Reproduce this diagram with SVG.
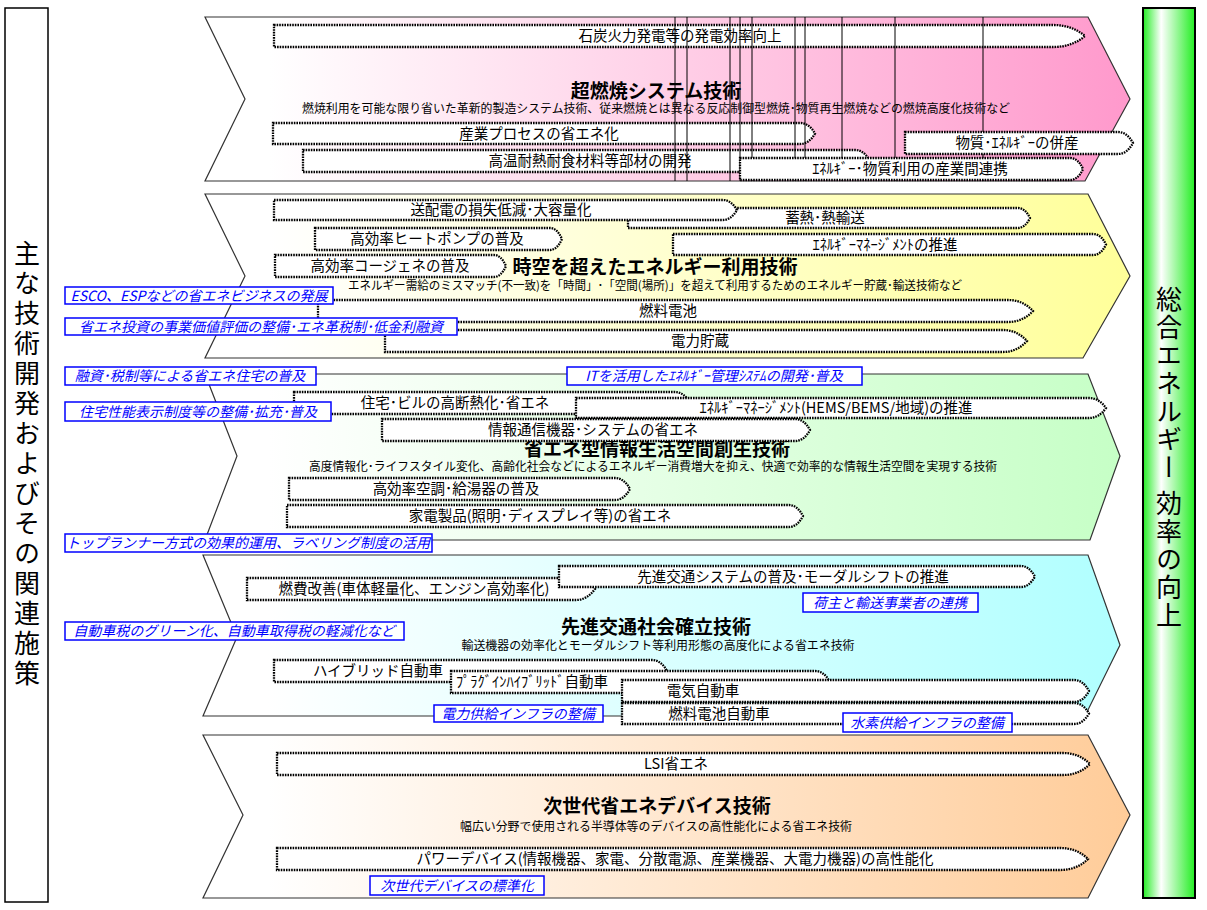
<svg xmlns="http://www.w3.org/2000/svg" width="1207" height="910" viewBox="0 0 1207 910">
<defs>
<linearGradient id="gPink" x1="0" y1="0" x2="1" y2="0"><stop offset="0" stop-color="#fff"/><stop offset="0.07" stop-color="#fff"/><stop offset="1" stop-color="#ff99cc"/></linearGradient>
<linearGradient id="gYel" x1="0" y1="0" x2="1" y2="0"><stop offset="0" stop-color="#fff"/><stop offset="0.07" stop-color="#fff"/><stop offset="1" stop-color="#ffff99"/></linearGradient>
<linearGradient id="gGrn" x1="0" y1="0" x2="1" y2="0"><stop offset="0" stop-color="#fff"/><stop offset="0.07" stop-color="#fff"/><stop offset="1" stop-color="#c6ffc6"/></linearGradient>
<linearGradient id="gCyn" x1="0" y1="0" x2="1" y2="0"><stop offset="0" stop-color="#fff"/><stop offset="0.07" stop-color="#fff"/><stop offset="1" stop-color="#b0ffff"/></linearGradient>
<linearGradient id="gOrg" x1="0" y1="0" x2="1" y2="0"><stop offset="0" stop-color="#fff"/><stop offset="0.07" stop-color="#fff"/><stop offset="1" stop-color="#ffcc99"/></linearGradient>
<linearGradient id="gCol" x1="0" y1="0" x2="1" y2="0"><stop offset="0" stop-color="#22ee22"/><stop offset="0.35" stop-color="#ffffff"/><stop offset="1" stop-color="#22ee22"/></linearGradient>
<style>
.bn{stroke:#333;stroke-width:1.2}
.arr{fill:#fff;stroke:#000;stroke-width:2.3;stroke-dasharray:1.6 1}
text{font-family:"Noto Sans CJK JP","Noto Sans",sans-serif;fill:#000;text-anchor:middle}
.lbl{font-size:14.5px}
.ttl{font-size:19px;font-weight:bold}
.sub{font-size:12px}
.pol rect{fill:#fff;stroke:#0000ff;stroke-width:1.5}
.pol text{fill:#0000ff;font-style:italic;font-size:14px}
.vl{stroke:#000;stroke-width:1}
.big{font-size:26px}
</style>
</defs>
<rect width="1207" height="910" fill="#fff"/>

<g id="left-column"><rect x="5" y="8" width="43" height="894" fill="#fff" stroke="#000" stroke-width="1.5"/>
<text class="big" x="27" y="465" writing-mode="vertical-rl" letter-spacing="4">主な技術開発およびその関連施策</text></g>

<g id="right-column"><rect x="1143" y="8" width="52" height="890" fill="url(#gCol)" stroke="#000" stroke-width="2"/>
<text class="big" x="1169" y="458" writing-mode="vertical-rl" letter-spacing="2">総合エネルギー 効率の向上</text></g>

<!-- Banner 1 pink -->
<g id="banner-combustion">
<polygon class="bn" fill="url(#gPink)" points="205,17 1088,17 1130,99 1085,181 205,181 245,99"/>
<text class="ttl" x="656" y="97.5">超燃焼システム技術</text>
<text class="sub" x="656" y="113" textLength="708" lengthAdjust="spacingAndGlyphs">燃焼利用を可能な限り省いた革新的製造システム技術、従来燃焼とは異なる反応制御型燃焼･物質再生燃焼などの燃焼高度化技術など</text>
</g>
<g id="a-coal"><path class="arr" d="M274,25 H1053 Q1072,25 1085,36 Q1072,47 1053,47 H274 Z"/><text class="lbl" x="680" y="41">石炭火力発電等の発電効率向上</text></g>
<g id="a-process"><path class="arr" d="M273,123 H800 Q809,123 815,133.5 Q809,144 800,144 H273 Z"/><text class="lbl" x="539" y="139">産業プロセスの省エネ化</text></g>
<g id="a-material"><path class="arr" d="M303,150 H855 Q864,150 870,161 Q864,172 855,172 H303 Z"/><text class="lbl" x="590" y="166">高温耐熱耐食材料等部材の開発</text></g>
<g id="pink-lines">
<line class="vl" x1="675" y1="17" x2="675" y2="181"/><line class="vl" x1="687" y1="17" x2="687" y2="181"/>
<line class="vl" x1="730" y1="17" x2="730" y2="181"/><line class="vl" x1="740" y1="17" x2="740" y2="181"/>
<line class="vl" x1="752" y1="17" x2="752" y2="181"/><line class="vl" x1="795" y1="17" x2="795" y2="181"/>
<line class="vl" x1="805" y1="17" x2="805" y2="181"/><line class="vl" x1="842" y1="17" x2="842" y2="181"/>
<line class="vl" x1="895" y1="17" x2="895" y2="181"/><line class="vl" x1="983" y1="17" x2="983" y2="181"/>
</g>
<g id="a-coproduction"><path class="arr" d="M905,132 H1118 Q1127,132 1133,143 Q1127,154 1118,154 H905 Z"/><text class="lbl" x="1017" y="148">物質･ｴﾈﾙｷﾞｰの併産</text></g>
<g id="a-interindustry"><path class="arr" d="M740,158 H1070 Q1078,158 1083,169 Q1078,180 1070,180 H740 Z"/><text class="lbl" x="910" y="174">ｴﾈﾙｷﾞｰ･物質利用の産業間連携</text></g>

<!-- Banner 2 yellow -->
<g id="banner-spacetime">
<polygon class="bn" fill="url(#gYel)" points="205,194 1088,194 1130,276 1083,358 205,358 245,276"/>
<text class="ttl" x="655" y="274">時空を超えたエネルギー利用技術</text>
<text class="sub" x="655" y="290" textLength="614" lengthAdjust="spacingAndGlyphs">エネルギー需給のミスマッチ(不一致)を「時間」･「空間(場所)」を超えて利用するためのエネルギー貯蔵･輸送技術など</text>
</g>
<g id="a-heatstore"><path class="arr" d="M628,208 H1018 Q1025,208 1030,218 Q1025,228 1018,228 H628 Z"/><text class="lbl" x="825" y="223">蓄熱･熱輸送</text></g>
<g id="a-transmission"><path class="arr" d="M274,200 H723 Q731,200 737,210 Q731,220 723,220 H274 Z"/><text class="lbl" x="501" y="215">送配電の損失低減･大容量化</text></g>
<g id="a-heatpump"><path class="arr" d="M315,228 H550 Q557,228 562,239 Q557,250 550,250 H315 Z"/><text class="lbl" x="437" y="244">高効率ヒートポンプの普及</text></g>
<g id="a-energymgmt"><path class="arr" d="M673,234 H1093 Q1101,234 1106,244.5 Q1101,255 1093,255 H673 Z"/><text class="lbl" x="885" y="250">ｴﾈﾙｷﾞｰﾏﾈｰｼﾞﾒﾝﾄの推進</text></g>
<g id="a-cogen"><path class="arr" d="M275,255 H494 Q501,255 506,266 Q501,277 494,277 H275 Z"/><text class="lbl" x="390" y="271">高効率コージェネの普及</text></g>
<g id="a-fuelcell"><path class="arr" d="M318,300 H1008 Q1023,300 1033,311 Q1023,322 1008,322 H318 Z"/><text class="lbl" x="668" y="316">燃料電池</text></g>
<g id="a-storage"><path class="arr" d="M385,330 H1003 Q1017,330 1027,341 Q1017,352 1003,352 H385 Z"/><text class="lbl" x="700" y="346">電力貯蔵</text></g>
<g id="p-esco" class="pol"><rect x="65" y="287" width="268" height="17"/><text x="199" y="300.5">ESCO、ESPなどの省エネビジネスの発展</text></g>
<g id="p-invest" class="pol"><rect x="65" y="318" width="392" height="17"/><text x="261" y="331.5">省エネ投資の事業価値評価の整備･エネ革税制･低金利融資</text></g>

<!-- Banner 3 green -->
<g id="banner-info">
<polygon class="bn" fill="url(#gGrn)" points="205,374 1088,374 1120,456 1090,540 205,540 237,456"/>
<text class="ttl" x="657" y="456">省エネ型情報生活空間創生技術</text>
<text class="sub" x="653" y="471" textLength="688" lengthAdjust="spacingAndGlyphs">高度情報化･ライフスタイル変化、高齢化社会などによるエネルギー消費増大を抑え、快適で効率的な情報生活空間を実現する技術</text>
</g>
<g id="a-insulation"><path class="arr" d="M294,392 H675 Q684,392 690,403 Q684,414 675,414 H294 Z"/><text class="lbl" x="455" y="408">住宅･ビルの高断熱化･省エネ</text></g>
<g id="a-hems"><path class="arr" d="M576,398 H1089 Q1099,398 1106,408 Q1099,418 1089,418 H576 Z"/><text class="lbl" x="836" y="413">ｴﾈﾙｷﾞｰﾏﾈｰｼﾞﾒﾝﾄ(HEMS/BEMS/地域)の推進</text></g>
<g id="a-ict"><path class="arr" d="M382,419 H795 Q804,419 810,430 Q804,441 795,441 H382 Z"/><text class="lbl" x="593" y="435">情報通信機器･システムの省エネ</text></g>
<g id="a-aircon"><path class="arr" d="M289,478 H615 Q624,478 630,489 Q624,500 615,500 H289 Z"/><text class="lbl" x="456" y="494">高効率空調･給湯器の普及</text></g>
<g id="a-appliance"><path class="arr" d="M287,505 H789 Q797,505 803,516 Q797,527 789,527 H287 Z"/><text class="lbl" x="540" y="521">家電製品(照明･ディスプレイ等)の省エネ</text></g>
<g id="p-housing-loan" class="pol"><rect x="65" y="367" width="251" height="18"/><text x="190" y="381">融資･税制等による省エネ住宅の普及</text></g>
<g id="p-it" class="pol"><rect x="567" y="367" width="295" height="18"/><text x="714" y="381">ITを活用したｴﾈﾙｷﾞｰ管理ｼｽﾃﾑの開発･普及</text></g>
<g id="p-housing-label" class="pol"><rect x="65" y="402" width="266" height="19"/><text x="198" y="416.5">住宅性能表示制度等の整備･拡充･普及</text></g>

<!-- Banner 4 cyan -->
<g id="banner-transport">
<polygon class="bn" fill="url(#gCyn)" points="203,555 1088,555 1120,645 1085,716 203,716 237,637"/>
<text class="ttl" x="656" y="634">先進交通社会確立技術</text>
<text class="sub" x="658" y="650" textLength="393" lengthAdjust="spacingAndGlyphs">輸送機器の効率化とモーダルシフト等利用形態の高度化による省エネ技術</text>
</g>
<g id="a-fuel-economy"><path class="arr" d="M247,578 H576 Q587,578 595,589 Q587,600 576,600 H247 Z"/><text class="lbl" x="414" y="594">燃費改善(車体軽量化、エンジン高効率化)</text></g>
<g id="a-modal"><path class="arr" d="M559,566 H1021 Q1029,566 1035,576.5 Q1029,587 1021,587 H559 Z"/><text class="lbl" x="793" y="582">先進交通システムの普及･モーダルシフトの推進</text></g>
<g id="a-hybrid"><path class="arr" d="M274,660 H652 Q661,660 667,671 Q661,682 652,682 H274 Z"/><text class="lbl" x="378" y="676">ハイブリッド自動車</text></g>
<g id="a-phv"><path class="arr" d="M451,671 H815 Q824,671 830,682 Q824,693 815,693 H451 Z"/><text class="lbl" x="532" y="687">ﾌﾟﾗｸﾞｲﾝﾊｲﾌﾞﾘｯﾄﾞ自動車</text></g>
<g id="a-ev"><path class="arr" d="M622,680 H1074 Q1083,680 1089,691 Q1083,702 1074,702 H622 Z"/><text class="lbl" x="703" y="696">電気自動車</text></g>
<g id="a-fcv"><path class="arr" d="M622,703 H1074 Q1083,703 1089,713.5 Q1083,724 1074,724 H622 Z"/><text class="lbl" x="719" y="719">燃料電池自動車</text></g>
<g id="p-toprunner" class="pol"><rect x="65" y="534" width="367" height="18"/><text x="248" y="548">トップランナー方式の効果的運用、ラベリング制度の活用</text></g>
<g id="p-shipper" class="pol"><rect x="803" y="593" width="175" height="19"/><text x="890" y="607.5">荷主と輸送事業者の連携</text></g>
<g id="p-cartax" class="pol"><rect x="65" y="622" width="339" height="18"/><text x="234" y="636">自動車税のグリーン化、自動車取得税の軽減化など</text></g>
<g id="p-power-infra" class="pol"><rect x="434" y="705" width="169" height="17"/><text x="518" y="718.5">電力供給インフラの整備</text></g>
<g id="p-h2-infra" class="pol"><rect x="843" y="713" width="169" height="19"/><text x="927" y="727.5">水素供給インフラの整備</text></g>

<!-- Banner 5 orange -->
<g id="banner-device">
<polygon class="bn" fill="url(#gOrg)" points="203,735 1088,735 1130,815 1088,898 203,898 243,815"/>
<text class="ttl" x="657" y="813">次世代省エネデバイス技術</text>
<text class="sub" x="656" y="831" textLength="392" lengthAdjust="spacingAndGlyphs">幅広い分野で使用される半導体等のデバイスの高性能化による省エネ技術</text>
</g>
<g id="a-lsi"><path class="arr" d="M277,753 H1063 Q1079,753 1090,764 Q1079,775 1063,775 H277 Z"/><text class="lbl" x="676" y="769">LSI省エネ</text></g>
<g id="a-power"><path class="arr" d="M277,848 H1060 Q1077,848 1088,859 Q1077,870 1060,870 H277 Z"/><text class="lbl" x="675" y="864">パワーデバイス(情報機器、家電、分散電源、産業機器、大電力機器)の高性能化</text></g>
<g id="p-standard" class="pol"><rect x="370" y="876" width="174" height="19"/><text x="457" y="890.5">次世代デバイスの標準化</text></g>

<g id="connectors"></g>
</svg>
